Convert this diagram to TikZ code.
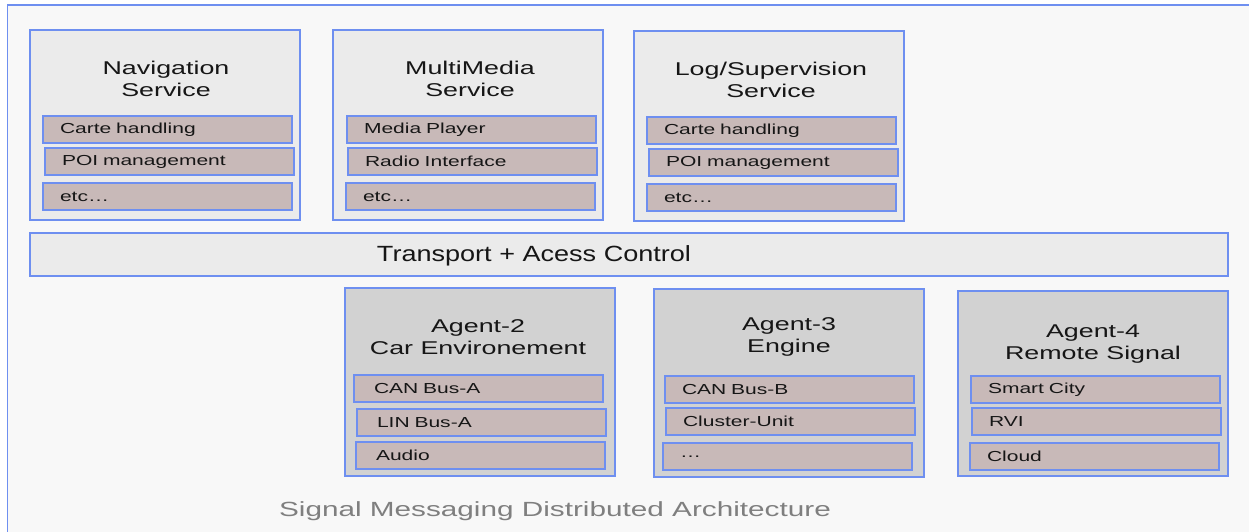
\documentclass[tikz,border=0pt]{standalone}
\usepackage{fontspec}
\setmainfont{Liberation Sans}
\newfontfamily\widefont[FakeStretch=1.45]{Liberation Sans}
\newfontfamily\barfont[FakeStretch=1.23]{Liberation Sans}
\definecolor{edgeblue}{HTML}{6E8FF0}
\definecolor{canvas}{HTML}{F8F8F8}
\definecolor{servicegrey}{HTML}{EBEBEB}
\definecolor{agentgrey}{HTML}{D2D2D2}
\definecolor{itemrose}{HTML}{C8B9B8}
\definecolor{textdark}{HTML}{161616}
\definecolor{captiongrey}{HTML}{7F7F7F}
\begin{document}
\begin{tikzpicture}[x=1pt,y=-1pt,
  box/.style={draw=edgeblue, line width=1.5pt, anchor=north west,
    inner sep=0pt, outer sep=0pt},
  service/.style={box, fill=servicegrey, minimum width=270pt, minimum height=190pt},
  agent/.style={box, fill=agentgrey, minimum width=270pt, minimum height=188pt},
  entry/.style={draw=edgeblue, line width=1.4pt, fill=itemrose, anchor=north west,
    inner ysep=0pt, inner xsep=17pt, outer sep=0pt, text width=215pt,
    minimum height=27pt, align=left, text=textdark,
    font=\widefont\fontsize{14.5}{17}\selectfont},
  title/.style={align=center, text=textdark, inner sep=0pt,
    font=\widefont\fontsize{18.5}{22}\selectfont}]

\useasboundingbox (0,0) rectangle (1249,531);
\clip (0,0) rectangle (1249,531);
\fill[white] (0,0) rectangle (1249,531);
\draw[draw=edgeblue, fill=canvas, line width=1.5pt] (7.5,5) rectangle (1265,545);

% service layer
\node[service] (nav) at (30,30) {};
\node[title] (navT) at (166,79) {Navigation\\Service};
\node[entry] (nav1) at (43,116) {Carte handling};
\node[entry] (nav2) at (45,148) {POI management};
\node[entry] (nav3) at (43,183) {etc…};

\node[service] (mm) at (333,30) {};
\node[title] (mmT) at (470,79) {MultiMedia\\Service};
\node[entry] (mm1) at (347,116) {Media Player};
\node[entry] (mm2) at (348,148) {Radio Interface};
\node[entry] (mm3) at (346,183) {etc…};

\node[service] (log) at (634,31) {};
\node[title] (logT) at (771,80) {Log/Supervision\\Service};
\node[entry] (log1) at (647,117) {Carte handling};
\node[entry] (log2) at (649,149) {POI management};
\node[entry] (log3) at (647,184) {etc…};

% transport bar
\node[box, fill=servicegrey, minimum width=1198pt, minimum height=43pt] (bus) at (30,233) {};
\node[text=textdark, inner sep=0pt, font=\barfont\fontsize{22}{26}\selectfont] (busT) at (534,256) {Transport + Acess Control};

% agent layer
\node[agent] (a2) at (345,288) {};
\node[title] (a2T) at (478,337) {Agent-2\\Car Environement};
\node[entry, inner xsep=20pt, text width=209pt] (a21) at (354,375) {CAN Bus-A};
\node[entry, inner xsep=20pt, text width=209pt] (a22) at (357,409) {LIN Bus-A};
\node[entry, inner xsep=20pt, text width=209pt] (a23) at (356,442) {Audio};

\node[agent] (a3) at (654,289) {};
\node[title] (a3T) at (789,337) {Agent-3\\Engine};
\node[entry] (a31) at (665,376) {CAN Bus-B};
\node[entry] (a32) at (666,408) {Cluster-Unit};
\node[entry] (a33) at (663,443) {…};

\node[agent, minimum height=185pt] (a4) at (958,291) {};
\node[title] (a4T) at (1093,344) {Agent-4\\Remote Signal};
\node[entry] (a41) at (971,376) {Smart City};
\node[entry] (a42) at (972,408) {RVI};
\node[entry] (a43) at (970,443) {Cloud};

% caption
\node[text=captiongrey, inner sep=0pt, font=\widefont\fontsize{20.5}{24}\selectfont] (cap) at (555,511) {Signal Messaging Distributed Architecture};
\end{tikzpicture}
\end{document}
